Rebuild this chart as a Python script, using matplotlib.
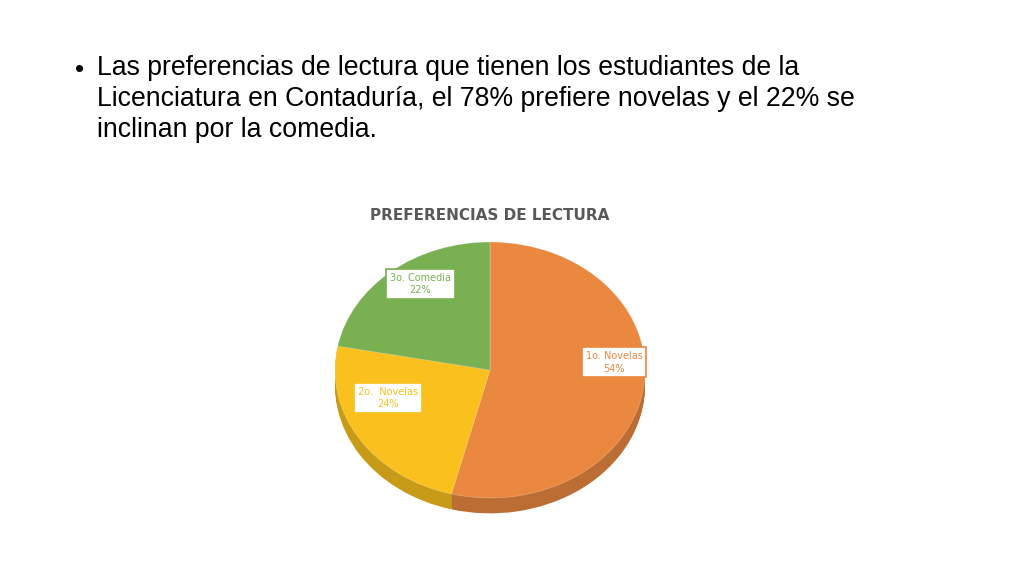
import matplotlib
matplotlib.use("Agg")
import matplotlib.pyplot as plt
import matplotlib.colors as mc

categories = ["1o. Novelas", "2o.  Novelas", "3o. Comedia"]
values = [54, 24, 22]
colors = ["#EA8840", "#F9C01E", "#78B052"]
bullet = ("Las preferencias de lectura que tienen los estudiantes de la\n"
          "Licenciatura en Contaduría, el 78% prefiere novelas y el 22% se\n"
          "inclinan por la comedia.")
title = "PREFERENCIAS DE LECTURA"

fig = plt.figure(figsize=(10.24, 5.76), dpi=100)
fig.patch.set_facecolor("white")
fig.text(75/1024, 1-70/576, "•", fontsize=19, family="Liberation Sans", va="center")
fig.text(97/1024, 1-55/576, bullet, fontsize=19.2, family="Liberation Sans", va="top",
         ha="left", linespacing=1.25)
fig.text(490/1024, 1-216/576, title, fontsize=11, color="#595959", weight="bold",
         ha="center", va="center", family="DejaVu Sans")

depth = 0.12
cx, cy, rx, ry = 490, 370, 155, 128
ax = fig.add_axes([(cx-rx)/1024, (576-cy-ry-ry*depth)/576, 2*rx/1024, (2*ry+ry*depth)/576])
ax.axis("off")

dark = [mc.to_hex([c*0.8 for c in mc.to_rgb(col)]) for col in colors]
n = 12
for i in range(n, 0, -1):
    ax.pie(values, colors=dark, startangle=90, counterclock=False,
           center=(0, -depth*i/n), radius=1, frame=False,
           wedgeprops=dict(linewidth=0))
wedges, _ = ax.pie(values, colors=colors, startangle=90, counterclock=False,
                   radius=1, frame=False, wedgeprops=dict(linewidth=0.5, edgecolor=(1,1,1,0.3)))
ax.set_aspect("auto")
ax.set_xlim(-1, 1); ax.set_ylim(-1-depth, 1)
ax.axis("off")

label_pos = [(0.8, 0.06), (-0.66, -0.22), (-0.45, 0.67)]
for cat, v, col, (x, y) in zip(categories, values, colors, label_pos):
    ax.text(x, y, f"{cat}\n{v}%", ha="center", va="center", fontsize=7,
            color=col, family="DejaVu Sans", linespacing=1.3,
            bbox=dict(boxstyle="square,pad=0.4", fc="white", ec=col, lw=1.2))

fig.savefig("out.png", dpi=100)
